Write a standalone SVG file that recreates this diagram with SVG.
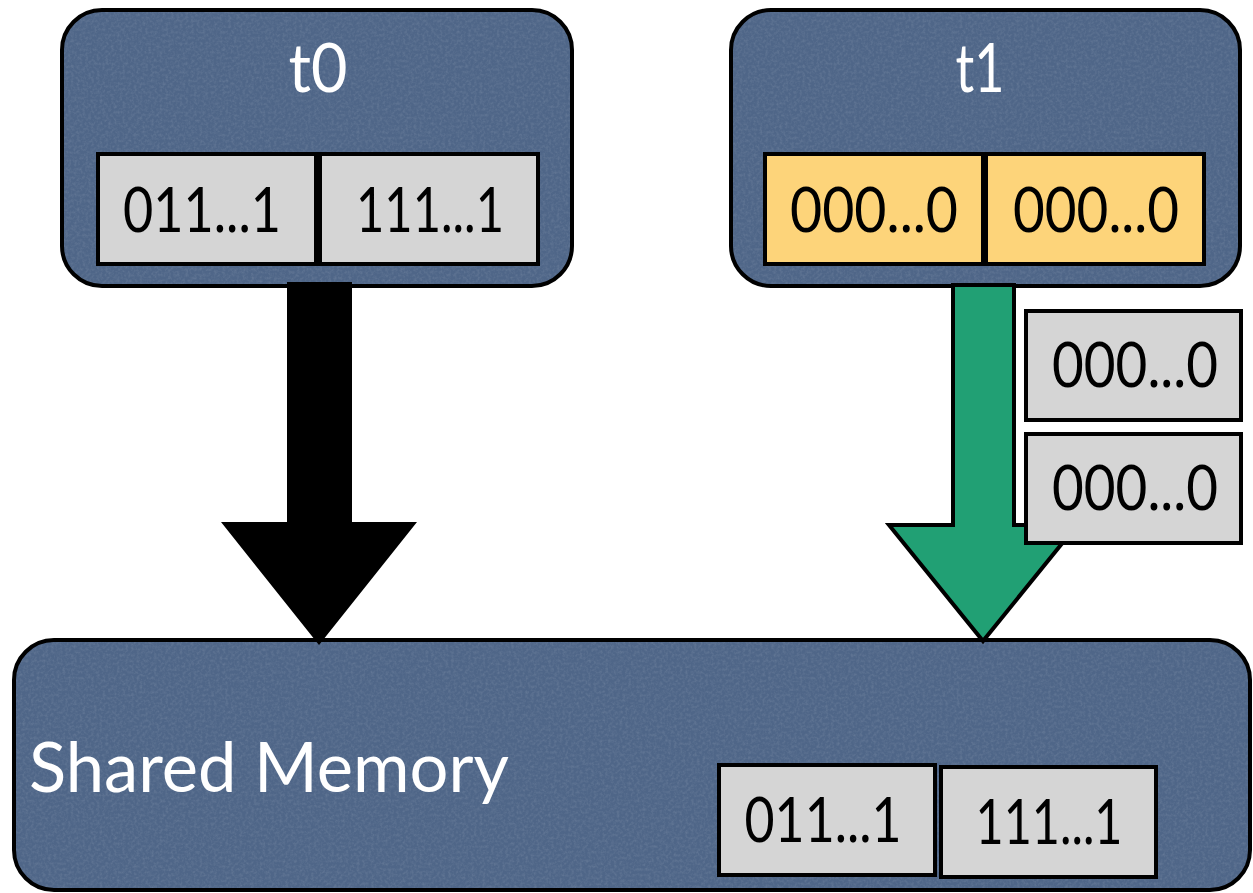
<svg xmlns="http://www.w3.org/2000/svg" width="1253" height="893" viewBox="0 0 1253 893">
  <defs>
    <!-- subtle paper grain for the slate panels -->
    <filter id="grain" x="0" y="0" width="100%" height="100%">
      <feTurbulence type="fractalNoise" baseFrequency="0.35" numOctaves="3" seed="7" result="n"/>
      <feColorMatrix in="n" type="matrix" values="0 0 0 0 1  0 0 0 0 1  0 0 0 0 1  0 0 0 0.9 -0.35" result="w"/>
      <feComposite in="w" in2="SourceGraphic" operator="in"/>
    </filter>
    <style>
      .panel { fill: #4f6688; stroke: #000; stroke-width: 4; }
      .grain { fill: #000; filter: url(#grain); opacity: 0.22; }
      .cell { fill: #d5d5d5; stroke: #000; stroke-width: 4; }
      .cell-y { fill: #fdd47a; stroke: #000; stroke-width: 4; }
      .title { font-family: Lato, "Liberation Sans", sans-serif; fill: #fff; font-size: 68px; text-anchor: middle; }
      .bits { font-family: Lato, "Liberation Sans", sans-serif; fill: #000; font-size: 61px; text-anchor: middle; }
    </style>
  </defs>

  <rect width="1253" height="893" fill="#fff"/>

  <!-- shared memory panel -->
  <g id="shared-memory">
    <rect class="panel" x="14" y="640" width="1236" height="250" rx="40"/>
    <rect class="grain" x="16" y="642" width="1232" height="246" rx="38"/>
    <text x="29" y="792" font-family="Lato, 'Liberation Sans', sans-serif" font-size="70" fill="#fff" textLength="480" lengthAdjust="spacingAndGlyphs">Shared Memory</text>
    <rect class="cell" x="719" y="765" width="216" height="110"/>
    <text class="bits" x="823" y="842" textLength="157" lengthAdjust="spacingAndGlyphs">011...1</text>
    <rect class="cell" x="941" y="767" width="215" height="110"/>
    <text class="bits" x="1049" y="844" textLength="147" lengthAdjust="spacingAndGlyphs">111...1</text>
  </g>

  <!-- thread t0 -->
  <g id="t0">
    <rect class="panel" x="62" y="10" width="510" height="276" rx="40"/>
    <rect class="grain" x="64" y="12" width="506" height="272" rx="38"/>
    <text class="title" x="318" y="92" textLength="59" lengthAdjust="spacingAndGlyphs">t0</text>
    <rect class="cell" x="98" y="154" width="218" height="110"/>
    <rect class="cell" x="320" y="154" width="218" height="110"/>
    <text class="bits" x="202" y="232" textLength="158" lengthAdjust="spacingAndGlyphs">011...1</text>
    <text class="bits" x="430" y="232" textLength="148" lengthAdjust="spacingAndGlyphs">111...1</text>
  </g>

  <!-- thread t1 -->
  <g id="t1">
    <rect class="panel" x="731" y="10" width="509" height="276" rx="40"/>
    <rect class="grain" x="733" y="12" width="505" height="272" rx="38"/>
    <text class="title" x="980" y="92" textLength="49" lengthAdjust="spacingAndGlyphs">t1</text>
    <rect class="cell-y" x="765" y="154" width="218" height="110"/>
    <rect class="cell-y" x="986" y="154" width="218" height="110"/>
    <text class="bits" x="874" y="232" textLength="168" lengthAdjust="spacingAndGlyphs">000...0</text>
    <text class="bits" x="1096" y="232" textLength="166" lengthAdjust="spacingAndGlyphs">000...0</text>
  </g>

  <!-- write arrows into shared memory -->
  <g id="connectors">
    <polygon points="287,282 352,282 352,522 417,522 319,645 221,522 287,522" fill="#000"/>
    <polygon points="953,285 1014,285 1014,525 1077,525 983,641 889,525 953,525" fill="#21a074" stroke="#000" stroke-width="4" stroke-linejoin="miter"/>
  </g>

  <!-- words in flight from t1 -->
  <g id="in-flight">
    <rect class="cell" x="1026" y="311" width="215" height="109"/>
    <text class="bits" x="1135" y="387" textLength="166" lengthAdjust="spacingAndGlyphs">000...0</text>
    <rect class="cell" x="1026" y="434" width="215" height="109"/>
    <text class="bits" x="1135" y="510" textLength="166" lengthAdjust="spacingAndGlyphs">000...0</text>
  </g>
</svg>
